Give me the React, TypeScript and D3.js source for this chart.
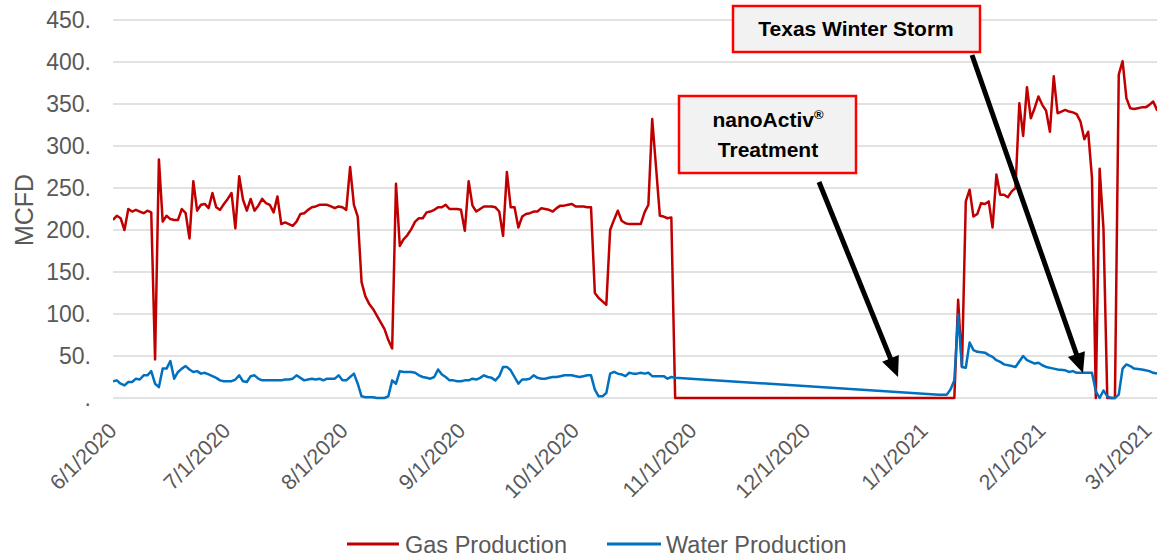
import React from "react";
import * as d3 from "d3";

const WIDTH = 1157;
const HEIGHT = 558;
const PLOT = { left: 113, right: 1157, top: 20, bottom: 398 };

const FONT = "'Liberation Sans', Arial, Helvetica, sans-serif";
const GRID_COLOR = "#d9d9d9";
const TEXT_COLOR = "#595959";
const GAS_COLOR = "#c00000";
const WATER_COLOR = "#0070c0";

// day offsets from 6/1/2020
const START = new Date(Date.UTC(2020, 5, 1));
const END = new Date(Date.UTC(2021, 2, 1));

const gasDays = [
  0, 1, 2, 3, 4, 5, 6, 7, 8, 9, 10, 11, 12, 13, 14, 15, 16, 17, 18, 19,
  20, 21, 22, 23, 24, 25, 26, 27, 28, 29, 30, 31, 32, 33, 34, 35, 36, 37, 38, 39,
  40, 41, 42, 43, 44, 45, 46, 47, 48, 49, 50, 51, 52, 53, 54, 55, 56, 57, 58, 59,
  60, 61, 62, 63, 64, 65, 66, 67, 68, 69, 70, 71, 72, 73, 74, 75, 76, 77, 78, 79,
  80, 81, 82, 83, 84, 85, 86, 87, 88, 89, 90, 91, 92, 93, 94, 95, 96, 97, 98, 99,
  100, 101, 102, 103, 104, 105, 106, 107, 108, 109, 110, 111, 112, 113, 114, 115, 116, 117, 118, 119,
  120, 121, 122, 123, 124, 125, 126, 127, 128, 129, 130, 131, 132, 133, 134, 135, 136, 137, 138, 139,
  140, 141, 142, 143, 144, 145, 146, 147,
  220, 221, 222, 223, 224, 225, 226, 227, 228, 229, 230, 231, 232, 233, 234, 235, 236, 237, 238, 239,
  240, 241, 242, 243, 244, 245, 246, 247, 248, 249, 250, 251, 252, 253, 254, 255, 256, 257, 258, 259,
  260, 261, 262, 263, 264, 265, 266, 267, 268, 269, 270, 271, 272, 273, 274,
];
const gasValues = [
  212, 217, 214, 200, 225, 222, 224, 222, 220, 223, 221, 46, 284, 210, 217, 213, 212, 212, 225, 220,
  190, 258, 223, 230, 231, 226, 244, 227, 224, 231, 237, 244, 202, 264, 236, 223, 237, 223, 229, 237,
  232, 230, 221, 240, 207, 209, 207, 205, 210, 219, 220, 224, 227, 228, 230, 230, 230, 228, 226, 228,
  227, 224, 275, 230, 216, 138, 121, 112, 106, 98, 90, 82, 69, 59, 255, 181, 189, 194, 201, 210,
  214, 214, 221, 222, 224, 227, 227, 230, 225, 225, 225, 224, 199, 258, 229, 222, 225, 228, 228, 228,
  227, 222, 193, 269, 227, 227, 203, 216, 219, 220, 222, 222, 226, 225, 224, 222, 226, 229, 229, 230,
  231, 228, 228, 228, 227, 227, 125, 119, 115, 111, 200, 212, 223, 211, 208, 207, 207, 207, 207, 221,
  230, 332, 275, 217, 216, 214, 215, 0,
  0, 117, 37, 234, 248, 216, 219, 232, 231, 234, 203, 266, 242, 242, 239, 246, 250, 351, 312, 370,
  333, 345, 359, 349, 342, 317, 383, 339, 341, 343, 341, 340, 338, 329, 308, 317, 262, 0, 273, 202,
  0, 0, 0, 385, 401, 357, 345, 344, 345, 346, 346, 349, 353, 343, 341,
];

const waterDays = [
  0, 1, 2, 3, 4, 5, 6, 7, 8, 9, 10, 11, 12, 13, 14, 15, 16, 17, 18, 19,
  20, 21, 22, 23, 24, 25, 26, 27, 28, 29, 30, 31, 32, 33, 34, 35, 36, 37, 38, 39,
  40, 41, 42, 43, 44, 45, 46, 47, 48, 49, 50, 51, 52, 53, 54, 55, 56, 57, 58, 59,
  60, 61, 62, 63, 64, 65, 66, 67, 68, 69, 70, 71, 72, 73, 74, 75, 76, 77, 78, 79,
  80, 81, 82, 83, 84, 85, 86, 87, 88, 89, 90, 91, 92, 93, 94, 95, 96, 97, 98, 99,
  100, 101, 102, 103, 104, 105, 106, 107, 108, 109, 110, 111, 112, 113, 114, 115, 116, 117, 118, 119,
  120, 121, 122, 123, 124, 125, 126, 127, 128, 129, 130, 131, 132, 133, 134, 135, 136, 137, 138, 139,
  140, 141, 142, 143, 144, 145, 146, 147,
  216, 218, 219, 220, 221, 222, 223, 224, 225, 226, 228, 229, 230, 231, 232, 233, 235, 236, 238, 239,
  241, 242, 243, 244, 246, 247, 249, 250, 251, 252, 253, 255, 256, 257, 258, 259, 260, 261, 262, 263,
  264, 265, 266, 267, 269, 270, 271, 272, 273,
];
const waterValues = [
  20, 21, 17, 15, 19, 19, 23, 22, 27, 27, 32, 17, 13, 35, 35, 44, 23, 31, 35, 38,
  34, 31, 32, 29, 30, 28, 26, 24, 21, 20, 20, 20, 22, 27, 20, 19, 26, 27, 23, 21,
  21, 21, 21, 21, 21, 22, 22, 23, 27, 24, 21, 22, 23, 22, 23, 21, 23, 23, 23, 27,
  21, 21, 25, 29, 17, 2, 1, 1, 1, 0, 0, 0, 2, 21, 17, 32, 31, 31, 31, 30,
  27, 25, 24, 23, 25, 34, 28, 25, 21, 21, 20, 20, 21, 21, 23, 22, 24, 27, 25, 24,
  21, 26, 37, 37, 33, 25, 17, 22, 22, 23, 27, 24, 23, 23, 24, 25, 25, 26, 27, 27,
  27, 26, 25, 26, 27, 27, 10, 2, 2, 6, 29, 31, 29, 28, 26, 30, 29, 29, 30, 29,
  30, 26, 26, 26, 26, 23, 25, 24,
  4, 4, 10, 21, 99, 37, 36, 66, 57, 55, 54, 51, 49, 45, 43, 40, 38, 37, 50, 45,
  41, 42, 39, 37, 35, 34, 33, 31, 32, 30, 30, 30, 30, 8, 0, 9, 2, 0, 0, 4,
  35, 40, 38, 35, 34, 33, 32, 30, 29,
];

const yTicks = [0, 50, 100, 150, 200, 250, 300, 350, 400, 450];
const yTickLabels = [".", "50.", "100.", "150.", "200.", "250.", "300.", "350.", "400.", "450."];

const xTickDates = [
  "2020-06-01", "2020-07-01", "2020-08-01", "2020-09-01", "2020-10-01",
  "2020-11-01", "2020-12-01", "2021-01-01", "2021-02-01", "2021-03-01",
];
const xTickLabels = [
  "6/1/2020", "7/1/2020", "8/1/2020", "9/1/2020", "10/1/2020",
  "11/1/2020", "12/1/2020", "1/1/2021", "2/1/2021", "3/1/2021",
];

const seriesNames = ["Gas Production", "Water Production"];

function Arrow({ x1, y1, x2, y2 }: { x1: number; y1: number; x2: number; y2: number }) {
  const len = Math.hypot(x2 - x1, y2 - y1);
  const ux = (x2 - x1) / len;
  const uy = (y2 - y1) / len;
  const headLen = 20;
  const headHalf = 9;
  const bx = x2 - ux * headLen;
  const by = y2 - uy * headLen;
  const pts = [
    [x2, y2],
    [bx - uy * headHalf, by + ux * headHalf],
    [bx + uy * headHalf, by - ux * headHalf],
  ];
  return (
    <g>
      <line x1={x1} y1={y1} x2={bx + ux * 2} y2={by + uy * 2} stroke="#000" strokeWidth={5} />
      <polygon points={pts.map((p) => p.join(",")).join(" ")} fill="#000" />
    </g>
  );
}

export default function App() {
  const x = d3.scaleUtc().domain([START, END]).range([PLOT.left, PLOT.right]);
  // rotated labels sit slightly inside the tick span
  const xLabel = d3.scaleUtc().domain([START, END]).range([118, 1153]);
  const y = d3.scaleLinear().domain([0, 450]).range([PLOT.bottom, PLOT.top]);
  const dateOf = (d: number) => d3.utcDay.offset(START, d);

  const line = d3
    .line<number>()
    .x((d) => x(dateOf(d)));

  const gasPath = line.y((_, i) => y(gasValues[i]))(gasDays);
  const waterPath = line.y((_, i) => y(waterValues[i]))(waterDays);

  const parseDate = d3.utcParse("%Y-%m-%d");

  return (
    <svg
      width={WIDTH}
      height={HEIGHT}
      style={{ position: "absolute", left: 0, top: 0, background: "#fff" }}
      fontFamily={FONT}
    >
      <defs>
        <clipPath id="plot-clip">
          <rect x={PLOT.left} y={0} width={PLOT.right - PLOT.left} height={PLOT.bottom + 5} />
        </clipPath>
      </defs>

      {/* grid + y labels */}
      {yTicks.map((t, i) => (
        <g key={t}>
          <line x1={PLOT.left} x2={PLOT.right} y1={y(t)} y2={y(t)} stroke={GRID_COLOR} strokeWidth={1.5} />
          <text x={91} y={y(t)} dy="0.36em" textAnchor="end" fontSize={23} fill={TEXT_COLOR}>
            {yTickLabels[i]}
          </text>
        </g>
      ))}

      <text
        transform={`translate(33,210) rotate(-90)`}
        textAnchor="middle"
        fontSize={25}
        fill={TEXT_COLOR}
      >
        MCFD
      </text>

      {/* x labels */}
      {xTickDates.map((d, i) => (
        <text
          key={d}
          transform={`translate(${xLabel(parseDate(d) as Date)},432) rotate(-45)`}
          textAnchor="end"
          fontSize={21.5}
          fill={TEXT_COLOR}
        >
          {xTickLabels[i]}
        </text>
      ))}

      <g clipPath="url(#plot-clip)" fill="none" strokeLinejoin="round">
        <path d={gasPath ?? ""} stroke={GAS_COLOR} strokeWidth={2.5} />
        <path d={waterPath ?? ""} stroke={WATER_COLOR} strokeWidth={2.5} />
      </g>

      {/* annotations */}
      <Arrow x1={819} y1={182} x2={898} y2={377} />
      <Arrow x1={972} y1={55} x2={1083} y2={373} />

      <rect x={733} y={6} width={247} height={46} fill="#f2f2f2" stroke="#ff0000" strokeWidth={2.5} />
      <text x={856} y={36} textAnchor="middle" fontSize={21} fontWeight="bold" fill="#000">
        Texas Winter Storm
      </text>

      <rect x={679} y={96} width={177} height={77} fill="#f2f2f2" stroke="#ff0000" strokeWidth={2.5} />
      <text x={768} y={127} textAnchor="middle" fontSize={21} fontWeight="bold" fill="#000">
        nanoActiv
        <tspan fontSize={13} dy={-8}>®</tspan>
      </text>
      <text x={768} y={157} textAnchor="middle" fontSize={21} fontWeight="bold" fill="#000">
        Treatment
      </text>

      {/* legend */}
      <g fontSize={23.5} fill={TEXT_COLOR}>
        <line x1={347} x2={399} y1={544} y2={544} stroke={GAS_COLOR} strokeWidth={3} />
        <text x={405} y={553}>{seriesNames[0]}</text>
        <line x1={607} x2={661} y1={544} y2={544} stroke={WATER_COLOR} strokeWidth={3} />
        <text x={666} y={553}>{seriesNames[1]}</text>
      </g>
    </svg>
  );
}
